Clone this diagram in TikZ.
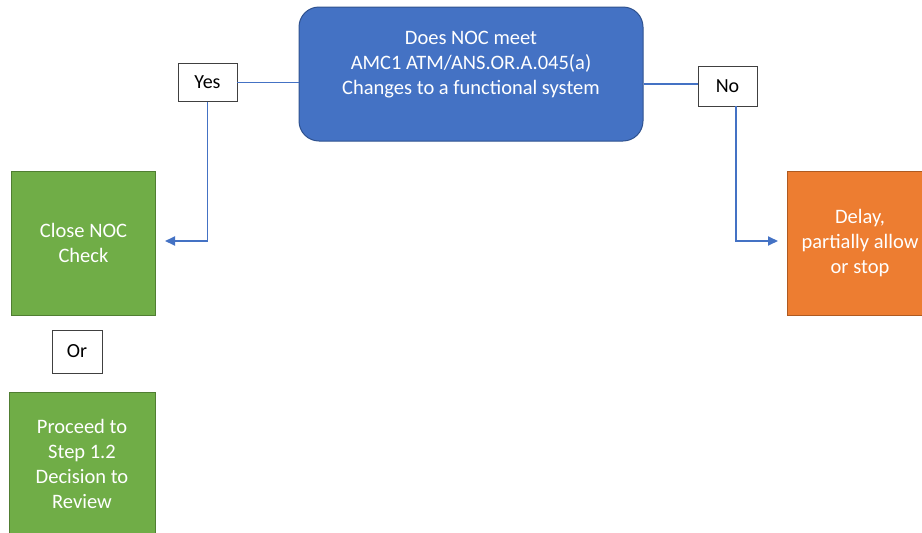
\documentclass[tikz,border=0pt]{standalone}
\usepackage{fontspec}
\setmainfont{Carlito}
\usetikzlibrary{arrows.meta}
\definecolor{qfill}{HTML}{4472C4}
\definecolor{qdraw}{HTML}{2F528F}
\definecolor{gfill}{HTML}{70AD47}
\definecolor{gdraw}{HTML}{507E32}
\definecolor{ofill}{HTML}{ED7D31}
\definecolor{odraw}{HTML}{AE5A21}
\definecolor{lnk}{HTML}{4472C4}
\tikzset{
  boxtext/.style={font=\fontsize{20.5}{24.8}\selectfont, text=white, align=center},
  question/.style={draw=qdraw, fill=qfill, line width=1pt, rounded corners=20pt,
    minimum width=344pt, minimum height=134pt, inner sep=0pt},
  greenbox/.style={draw=gdraw, fill=gfill, line width=1pt, minimum width=144pt,
    minimum height=144pt, inner sep=0pt, boxtext},
  orangebox/.style={draw=odraw, fill=ofill, line width=1pt, minimum width=146pt,
    minimum height=144pt, inner sep=0pt, boxtext},
  tag/.style={draw=black!75, fill=white, line width=0.8pt, minimum width=59pt,
    minimum height=38pt, inner sep=0pt, font=\fontsize{20}{24}\selectfont},
  conn/.style={draw=lnk, line width=1.8pt},
  arrowconn/.style={conn, -{Triangle[length=10pt,width=9pt]}},
}
\begin{document}
\begin{tikzpicture}[x=1pt, y=-1pt]
\useasboundingbox (0,0) rectangle (922,533);

% decision box
\node[question] (q) at (471,74) {};
\node[boxtext] (qtext) at (471,64.5) {Does NOC meet\\AMC1 ATM/ANS.OR.A.045(a)\\Changes to a functional system};

% answer tags
\node[tag] (yes) at (207.5,82.5) {Yes};
\node[tag, minimum height=40pt] (no) at (727.5,86) {No};
\node[tag, minimum width=50pt, minimum height=43pt] (or) at (77,351.5) {Or};

% outcome boxes
\node[greenbox] (close) at (83.5,243) {Close NOC\\Check};
\node[greenbox, minimum width=146pt] (proceed) at (82,464) {Proceed to\\Step 1.2\\Decision to\\Review};
\node[orangebox] (delay) at (860,243) {Delay,\\partially allow\\or stop};

% connectors
\coordinate (closein) at (165,241);
\coordinate (noout) at (736,106);
\coordinate (delayin) at (778,241);
\draw[conn] (yes.east) -- (yes.east -| q.west);
\draw[conn] (q.east |- 0,84) -- (no.west |- 0,84);
\draw[arrowconn] (yes.south) |- (closein);
\draw[arrowconn] (noout) |- (delayin);
\end{tikzpicture}
\end{document}
